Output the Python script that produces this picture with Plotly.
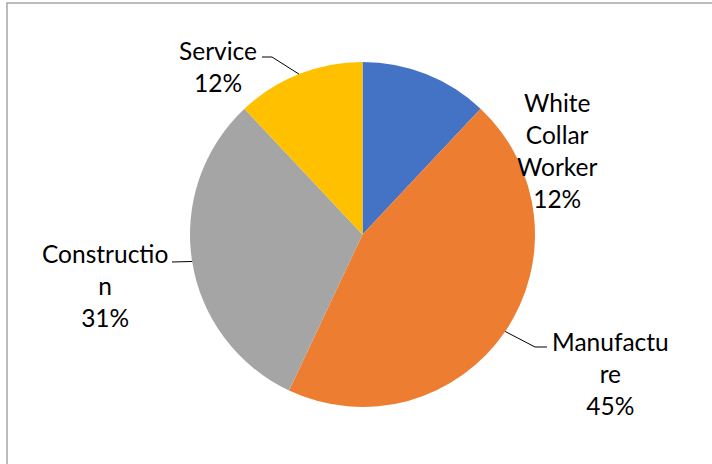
import math
import plotly.graph_objects as go

categories = ["White Collar Worker", "Manufacture", "Construction", "Service"]
shares = [12, 45, 31, 12]
colors = ["#4472C4", "#ED7D31", "#A5A5A5", "#FFC000"]

W, H = 712, 464
CX, CY, R = 362.5, 234.5, 172.5

# label layout (style): center of text block in px, wrap width, leader elbow points
label_style = {
    "White Collar Worker": dict(pos=(557, 150), wrap=6, leader=None),
    "Manufacture": dict(pos=(610, 373), wrap=9, leader=[(535, 347), (547, 347)]),
    "Construction": dict(pos=(105, 285), wrap=11, leader=[(172, 262)]),
    "Service": dict(pos=(218, 67), wrap=11, leader=[(272, 57), (262, 57)]),
}


def wrap(text, width):
    lines = []
    for word in text.split(" "):
        while len(word) > width:
            lines.append(word[:width])
            word = word[width:]
        lines.append(word)
    return lines


def px(x, y):
    return x / W, 1 - y / H


fig = go.Figure(go.Pie(
    labels=categories,
    values=shares,
    marker=dict(colors=colors, line=dict(width=0)),
    sort=False,
    direction="clockwise",
    rotation=0,
    textinfo="none",
    hoverinfo="label+percent",
    domain=dict(x=[(CX - R) / W, (CX + R) / W], y=[(H - CY - R) / H, (H - CY + R) / H]),
    showlegend=False,
))

total = sum(shares)
annotations = []
shapes = []
cum = 0
for cat, v in zip(categories, shares):
    mid = (cum + v / 2) / total * 2 * math.pi
    cum += v
    st = label_style[cat]
    pct = round(v / total * 100)
    text = "<br>".join(wrap(cat, st["wrap"]) + [f"{pct}%"])
    x, y = px(*st["pos"])
    annotations.append(dict(x=x, y=y, xref="paper", yref="paper", text=text,
                            showarrow=False, xanchor="center", yanchor="middle",
                            font=dict(family="Lato", size=24.5, color="#000000"),
                            align="center"))
    if st["leader"]:
        ex, ey = CX + R * math.sin(mid), CY - R * math.cos(mid)
        pts = [(ex, ey)] + st["leader"]
        path = "M " + " L ".join(f"{px(a, b)[0]},{px(a, b)[1]}" for a, b in pts)
        shapes.append(dict(type="path", path=path, xref="paper", yref="paper",
                           line=dict(color="#000000", width=1)))

shapes.append(dict(type="rect", xref="paper", yref="paper",
                   x0=7 / W, x1=1.02, y0=-0.02, y1=1 - 3 / H,
                   line=dict(color="#A6A6A6", width=1.5)))

fig.update_layout(
    width=W, height=H,
    margin=dict(l=0, r=0, t=0, b=0),
    paper_bgcolor="white",
    plot_bgcolor="white",
    annotations=annotations,
    shapes=shapes,
)

fig.write_html("out.html")
